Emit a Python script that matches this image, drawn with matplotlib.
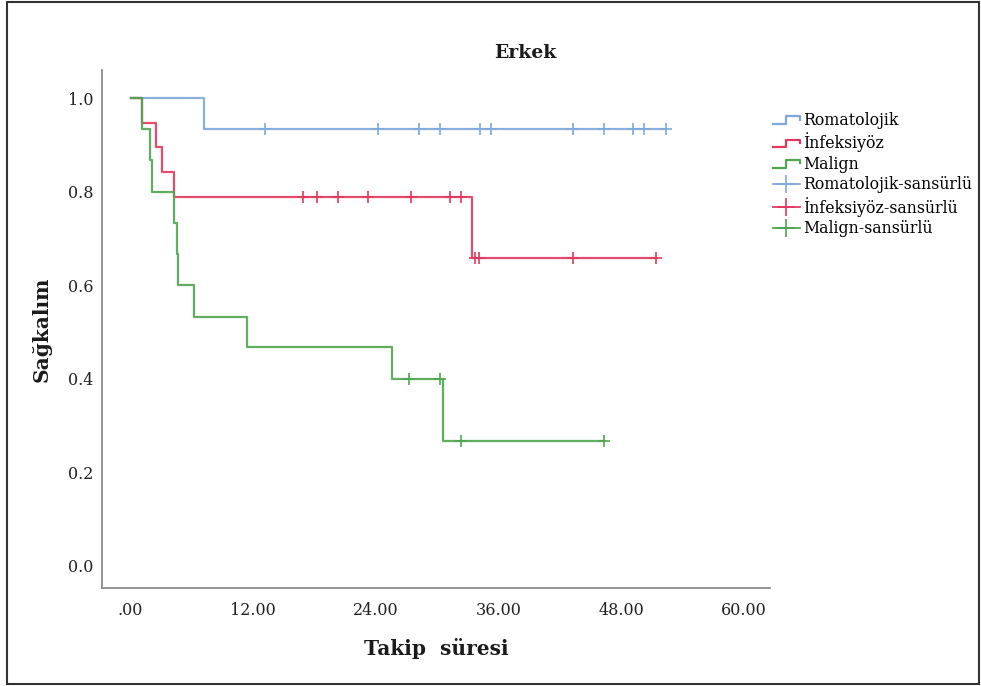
import numpy as np
import matplotlib
matplotlib.use('Agg')
import matplotlib.pyplot as plt
from matplotlib.lines import Line2D
from matplotlib.legend_handler import HandlerBase
from matplotlib.patches import Rectangle

# Kaplan-Meier steps (months, survival)
rom_times = [7.2]
rom_surv = [0.9333]
rom_end = 52.4
rom_cens = [13.2, 24.2, 28.2, 30.3, 34.2, 35.3, 43.3, 46.3, 49.2, 50.3, 52.4]

inf_times = [1.1, 2.5, 3.1, 4.2, 33.4]
inf_surv = [0.947, 0.895, 0.842, 0.789, 0.658]
inf_end = 51.4
inf_cens = [16.9, 18.2, 20.3, 23.2, 27.4, 31.3, 32.3, 33.7, 34.1, 43.3, 51.4]

mal_times = [1.1, 1.9, 2.1, 4.2, 4.5, 4.6, 6.2, 11.4, 25.6, 30.6]
mal_surv = [0.933, 0.867, 0.800, 0.733, 0.667, 0.600, 0.533, 0.467, 0.400, 0.267]
mal_end = 46.3
mal_cens = [27.3, 30.3, 32.3, 46.3]

groups = ['Romatolojik', 'İnfeksiyöz', 'Malign']
colors = ['#7fa8dc', '#e2385f', '#4fa64f']

xticks = [0, 12, 24, 36, 48, 60]
xticklabels = ['.00', '12.00', '24.00', '36.00', '48.00', '60.00']
yticks = [0.0, 0.2, 0.4, 0.6, 0.8, 1.0]


class StepHandler(HandlerBase):
  def create_artists(self, legend, orig_handle, xdescent, ydescent,
                     width, height, fontsize, trans):
    x0 = -xdescent
    y0 = -ydescent
    lo = y0 + height * 0.1
    hi = y0 + height * 0.8
    xs = [x0, x0 + width * 0.5, x0 + width * 0.5, x0 + width, x0 + width]
    ys = [lo, lo, hi, hi, hi - height * 0.3]
    line = Line2D(xs, ys, color=orig_handle.get_color(),
                  lw=orig_handle.get_linewidth(), transform=trans)
    return [line]


def surv_at(times, surv, t):
  idx = np.searchsorted(times, t, side='right')
  full = [1.0] + list(surv)
  return full[idx]


serif = 'DejaVu Serif'
fig = plt.figure(figsize=(9.81, 6.86), dpi=100)
ax = fig.add_axes([0.104, 0.143, 0.681, 0.755])

data = [(rom_times, rom_surv, rom_end, rom_cens),
        (inf_times, inf_surv, inf_end, inf_cens),
        (mal_times, mal_surv, mal_end, mal_cens)]

step_handles = []
cens_handles = []
for (times, surv, end, cens), col, name in zip(data, colors, groups):
  xs = [0.0] + list(times) + [end]
  ys = [1.0] + list(surv) + [surv[-1]]
  ln, = ax.step(xs, ys, where='post', color=col, lw=1.6, alpha=0.9)
  cy = [surv_at(times, surv, c) for c in cens]
  ax.plot(cens, cy, ls='none', marker='+', ms=9, mew=1.2, color=col)
  step_handles.append(ln)
  cens_handles.append(Line2D([], [], color=col, lw=1.3, marker='+', ms=13, mew=1.2))

ax.set_xlim(-2.8, 62.6)
ax.set_ylim(-0.047, 1.06)
ax.set_xticks(xticks)
ax.set_xticklabels(xticklabels)
ax.set_yticks(yticks)
ax.set_yticklabels(['%.1f' % v for v in yticks])
ax.tick_params(length=0, labelsize=11.5, colors='#222222')
ax.tick_params(axis='x', pad=10)
ax.tick_params(axis='y', pad=6)
for lab in ax.get_xticklabels() + ax.get_yticklabels():
  lab.set_family(serif)

for s in ['top', 'right']:
  ax.spines[s].set_visible(False)
for s in ['left', 'bottom']:
  ax.spines[s].set_color('#8c8c8c')
  ax.spines[s].set_linewidth(1.3)

ax.set_xlabel('Takip  süresi', family=serif, fontweight='bold', fontsize=14.5,
              labelpad=14, color='#1a1a1a')
ax.set_ylabel('Sağkalım', family=serif, fontweight='bold', fontsize=14.5,
              labelpad=12, color='#1a1a1a')
fig.text(525 / 981, 1 - 53 / 686, 'Erkek', family=serif, fontweight='bold',
         fontsize=13.5, ha='center', va='center', color='#1a1a1a')

labels = groups + [g + '-sansürlü' for g in groups]
hmap = {h: StepHandler() for h in step_handles}
fig.legend(step_handles + cens_handles, labels, loc='upper left',
           bbox_to_anchor=(773 / 981, 1 - 112 / 686), frameon=False,
           handler_map=hmap, prop={'family': serif, 'size': 11.3},
           handlelength=1.7, handletextpad=0.2, labelspacing=0.22,
           borderaxespad=0, borderpad=0)

fig.patches.append(Rectangle((7 / 981, 2 / 686), 972 / 981, 682 / 686,
                             transform=fig.transFigure, fill=False,
                             edgecolor='#333333', lw=1.5))

fig.savefig('out.png', dpi=100)
